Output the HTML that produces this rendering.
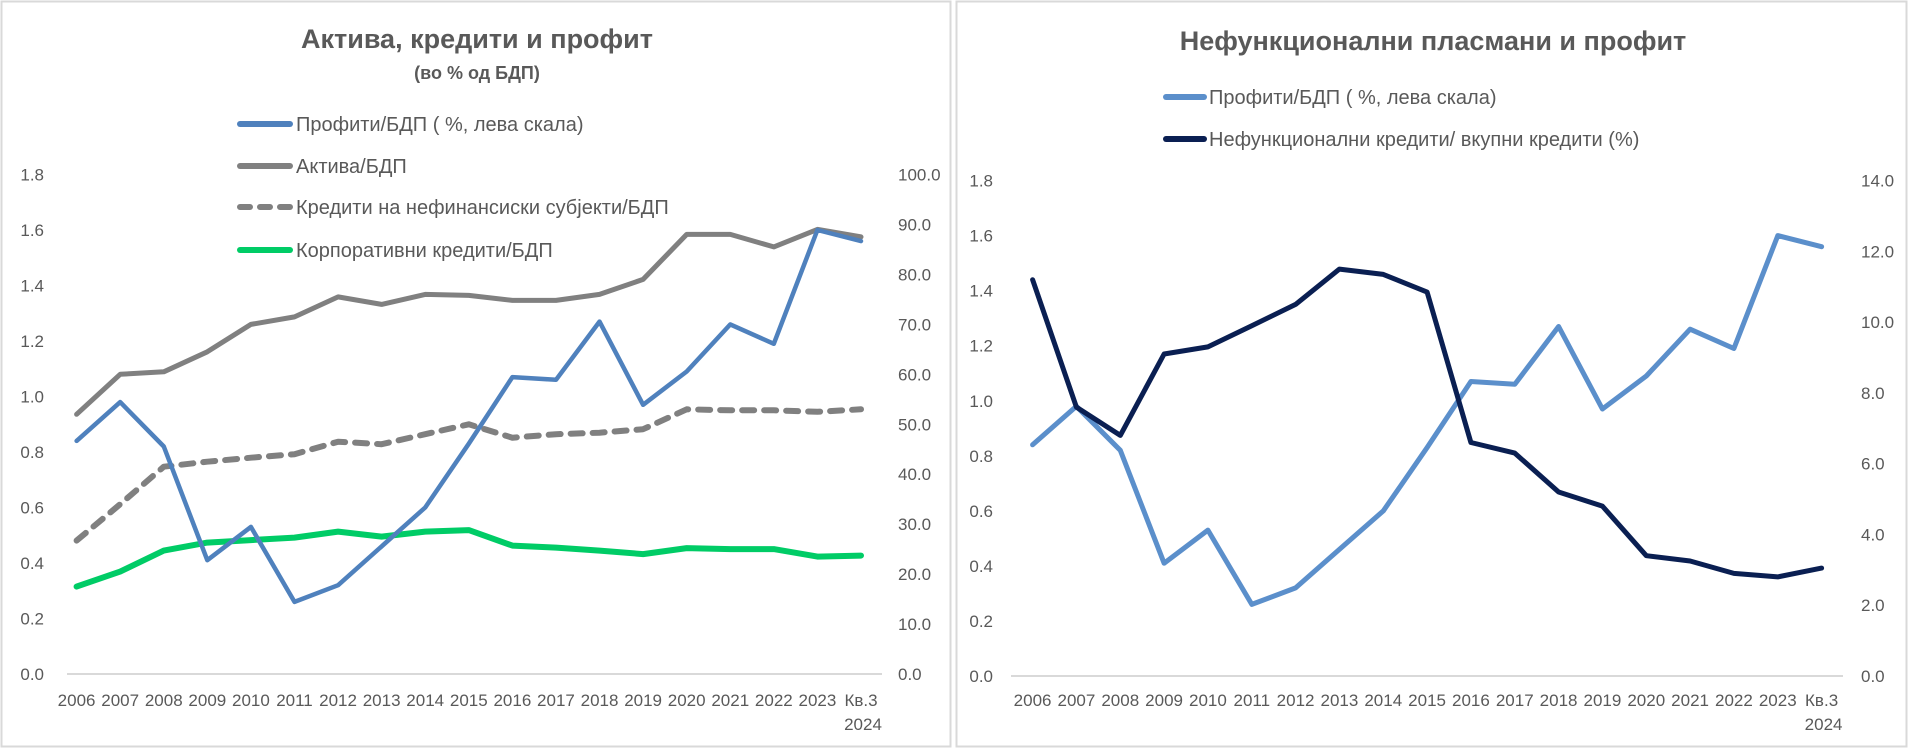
<!DOCTYPE html>
<html><head><meta charset="utf-8">
<style>
html,body{margin:0;padding:0;background:#fff;}
body{width:1909px;height:749px;overflow:hidden;}
svg text{font-family:"Liberation Sans Narrow","Liberation Sans",sans-serif;fill:#595959;}
</style></head><body>
<svg id="s" width="1909" height="749" xmlns="http://www.w3.org/2000/svg">
<rect x="1.5" y="1.5" width="949" height="745" fill="#fff" stroke="#d9d9d9" stroke-width="2"/>
<rect x="956.5" y="1.5" width="950" height="745" fill="#fff" stroke="#d9d9d9" stroke-width="2"/>
<text x="477" y="48" font-size="27" font-weight="bold" text-anchor="middle" style="font-family:'Liberation Sans',sans-serif">Актива, кредити и профит</text>
<text x="477" y="79" font-size="18" font-weight="bold" text-anchor="middle" style="font-family:'Liberation Sans',sans-serif">(во % од БДП)</text>
<text x="1433" y="50" font-size="27" font-weight="bold" text-anchor="middle" style="font-family:'Liberation Sans',sans-serif">Нефункционални пласмани и профит</text>
<g id="g"></g>
</svg>
<script>
var g=document.getElementById('g');var h='';
var years=['2006','2007','2008','2009','2010','2011','2012','2013','2014','2015','2016','2017','2018','2019','2020','2021','2022','2023','Кв.3'];
function chart(x0,x1,y0,y1,ax0,ax1,ll,rl,rmax,rstep){
 var st=(x1-x0)/18;
 h+='<line x1="'+ax0+'" y1="'+y0+'" x2="'+ax1+'" y2="'+y0+'" stroke="#d9d9d9" stroke-width="2"/>';
 for(var i=0;i<=9;i++){var y=y0-(y0-y1)*i/9;h+='<text x="'+ll+'" y="'+(y+6)+'" font-size="17" text-anchor="end">'+(i*0.2).toFixed(1)+'</text>';}
 var n=rmax/rstep;for(var i=0;i<=n;i++){var y=y0-(y0-y1)*i/n;h+='<text x="'+rl+'" y="'+(y+6)+'" font-size="17">'+(i*rstep).toFixed(1)+'</text>';}
 for(var i=0;i<19;i++){h+='<text x="'+(x0+st*i)+'" y="706" font-size="17" text-anchor="middle">'+years[i]+'</text>';}
 h+='<text x="'+(x1+2)+'" y="730" font-size="17" text-anchor="middle">2024</text>';
}
function line(x0,x1,y0,y1,max,d,col,w,dash){
 var st=(x1-x0)/18,p=[];
 for(var i=0;i<d.length;i++)p.push((x0+st*i).toFixed(1)+','+(y0-(y0-y1)*d[i]/max).toFixed(1));
 h+='<polyline points="'+p.join(' ')+'" fill="none" stroke="'+col+'" stroke-width="'+w+'" stroke-linejoin="round" stroke-linecap="'+(dash?'round':'round')+'"'+(dash?' stroke-dasharray="'+dash+'"':'')+'/>';
}
var prof=[0.84,0.98,0.82,0.41,0.53,0.26,0.32,0.46,0.60,0.83,1.07,1.06,1.27,0.97,1.09,1.26,1.19,1.60,1.56];
// left chart
var L=[76.6,861,674,174.5];
chart(L[0],L[1],L[2],L[3],67,882,44,898,100,10);
var akt=[52,60,60.5,64.5,70,71.5,75.5,74,76,75.8,74.8,74.8,76,79,88,88,85.5,89,87.5];
var kr=[26.7,34,41.5,42.5,43.3,44,46.5,46,48,50,47.3,48,48.3,49,53,52.8,52.8,52.5,53];
var corp=[17.5,20.5,24.7,26.3,26.8,27.3,28.5,27.5,28.5,28.8,25.7,25.3,24.7,24,25.2,25,25,23.5,23.7];
line(L[0],L[1],L[2],L[3],100,corp,'#00cc66',6);
line(L[0],L[1],L[2],L[3],100,kr,'#808080',6,'12 10');
line(L[0],L[1],L[2],L[3],100,akt,'#808080',5);
line(L[0],L[1],L[2],L[3],1.8,prof,'#4f81bd',4.5);
// left legend
var lg=[['Профити/БДП ( %, лева скала)','#4f81bd',0],['Актива/БДП','#808080',0],['Кредити на нефинансиски субјекти/БДП','#808080',1],['Корпоративни кредити/БДП','#00cc66',0]];
var ly=[124,166,207,250];
for(var i=0;i<4;i++){var y=ly[i];
 h+='<line x1="240" y1="'+y+'" x2="290" y2="'+y+'" stroke="'+lg[i][1]+'" stroke-width="6" stroke-linecap="round"'+(lg[i][2]?' stroke-dasharray="10 10"':'')+'/>';
 h+='<text x="296" y="'+(y+7)+'" font-size="20">'+lg[i][0]+'</text>';}
// right chart
var R=[1032.6,1821.6,676,180.6];
chart(R[0],R[1],R[2],R[3],1011,1843,993,1861,14,2);
var npl=[11.2,7.6,6.8,9.1,9.3,9.9,10.5,11.5,11.35,10.85,6.6,6.3,5.2,4.8,3.4,3.25,2.9,2.8,3.05];
line(R[0],R[1],R[2],R[3],1.8,prof,'#5b8fcb',5);
line(R[0],R[1],R[2],R[3],14,npl,'#0a1f52',5);
h+='<line x1="1166" y1="97" x2="1204" y2="97" stroke="#5b8fcb" stroke-width="6" stroke-linecap="round"/>';
h+='<text x="1209" y="104" font-size="20">Профити/БДП ( %, лева скала)</text>';
h+='<line x1="1166" y1="139" x2="1204" y2="139" stroke="#0a1f52" stroke-width="6" stroke-linecap="round"/>';
h+='<text x="1209" y="146" font-size="20">Нефункционални кредити/ вкупни кредити (%)</text>';
g.innerHTML=h;
</script>
</body></html>
